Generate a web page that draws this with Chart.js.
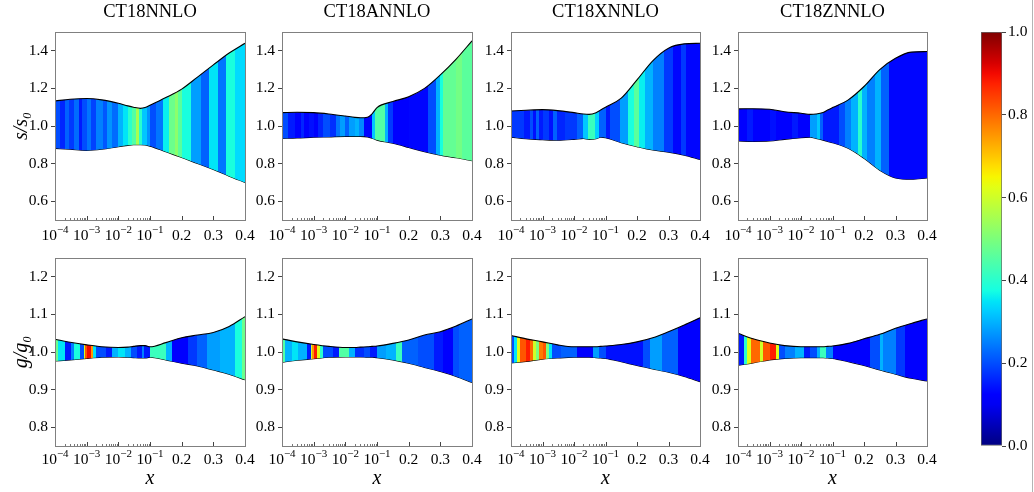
<!DOCTYPE html>
<html lang="en">
<head>
<meta charset="UTF-8">
<title>CT18 uncertainty bands</title>
<script src="https://cdn.jsdelivr.net/npm/chart.js"></script>
<style>
  body { margin: 0; background: #fff; }
  #wrap { position: relative; width: 1034px; height: 492px; overflow: hidden; }
  #wrap canvas { position: absolute; }
  #edge { position: absolute; left: 1032px; top: 0; width: 1px; height: 492px; background: #b4b4b4; }
</style>
</head>
<body>
<div id="wrap"><div id="edge"></div></div>
<script>
// ---- data ----
const setNames = ['CT18NNLO', 'CT18ANNLO', 'CT18XNNLO', 'CT18ZNNLO'];
const xNodes = [1e-4, 3e-4, 1e-3, 3e-3, 1e-2, 2e-2, 3e-2, 5e-2, 7e-2, 0.1, 0.15, 0.2, 0.25, 0.3, 0.35, 0.4];
const xTicks = [1e-4, 1e-3, 1e-2, 0.1, 0.2, 0.3, 0.4];
const xTickLabels = ['10^-4', '10^-3', '10^-2', '10^-1', '0.2', '0.3', '0.4'];
const sTicks = [0.6, 0.8, 1.0, 1.2, 1.4];
const gTicks = [0.8, 0.9, 1.0, 1.1, 1.2];
const cbarTicks = [0, 0.2, 0.4, 0.6, 0.8, 1.0];

// strange quark s/s0, upper and lower band edges
const sUpperNNLO = [1.133, 1.142, 1.146, 1.139, 1.121, 1.107, 1.100, 1.094, 1.098, 1.110, 1.151, 1.196, 1.260, 1.325, 1.388, 1.440];
const sLowerNNLO = [0.881, 0.876, 0.870, 0.876, 0.890, 0.897, 0.900, 0.900, 0.899, 0.893, 0.863, 0.833, 0.800, 0.769, 0.733, 0.700];
const sUpperA = [1.071, 1.073, 1.071, 1.064, 1.053, 1.046, 1.044, 1.047, 1.065, 1.098, 1.130, 1.156, 1.200, 1.272, 1.356, 1.453];
const sLowerA = [0.934, 0.936, 0.940, 0.942, 0.945, 0.945, 0.945, 0.942, 0.935, 0.925, 0.908, 0.886, 0.863, 0.845, 0.831, 0.815];
const sUpperX = [1.080, 1.084, 1.087, 1.082, 1.071, 1.064, 1.062, 1.071, 1.085, 1.100, 1.148, 1.245, 1.347, 1.414, 1.437, 1.440];
const sLowerX = [0.941, 0.932, 0.927, 0.924, 0.929, 0.934, 0.929, 0.932, 0.940, 0.938, 0.911, 0.890, 0.872, 0.861, 0.845, 0.822];
const sUpperZ = [1.091, 1.092, 1.089, 1.076, 1.068, 1.062, 1.064, 1.072, 1.085, 1.098, 1.139, 1.210, 1.300, 1.360, 1.393, 1.396];
const sLowerZ = [0.920, 0.918, 0.920, 0.929, 0.938, 0.940, 0.934, 0.925, 0.918, 0.911, 0.881, 0.828, 0.765, 0.724, 0.717, 0.724];

// gluon g/g0
const gUpperNNLO = [1.034, 1.026, 1.019, 1.014, 1.012, 1.013, 1.015, 1.017, 1.017, 1.014, 1.025, 1.038, 1.045, 1.052, 1.068, 1.094];
const gLowerNNLO = [0.976, 0.979, 0.983, 0.986, 0.987, 0.986, 0.985, 0.984, 0.984, 0.986, 0.979, 0.970, 0.963, 0.952, 0.941, 0.926];
const gUpperA = [1.035, 1.027, 1.020, 1.015, 1.012, 1.012, 1.013, 1.014, 1.015, 1.016, 1.023, 1.032, 1.045, 1.054, 1.069, 1.088];
const gLowerA = [0.973, 0.978, 0.982, 0.986, 0.987, 0.987, 0.987, 0.986, 0.986, 0.985, 0.979, 0.970, 0.959, 0.948, 0.935, 0.919];
const gUpperX = [1.044, 1.035, 1.027, 1.019, 1.014, 1.014, 1.014, 1.014, 1.015, 1.016, 1.020, 1.027, 1.038, 1.054, 1.072, 1.091];
const gLowerX = [0.971, 0.975, 0.981, 0.984, 0.986, 0.986, 0.986, 0.985, 0.984, 0.983, 0.974, 0.964, 0.955, 0.946, 0.935, 0.921];
const gUpperZ = [1.050, 1.035, 1.024, 1.017, 1.014, 1.014, 1.014, 1.014, 1.015, 1.016, 1.023, 1.035, 1.047, 1.063, 1.076, 1.088];
const gLowerZ = [0.965, 0.971, 0.979, 0.983, 0.985, 0.985, 0.985, 0.985, 0.984, 0.983, 0.974, 0.964, 0.952, 0.941, 0.930, 0.923];

// colour stripes: [x where the stripe starts, colour-scale value]
const sStripesNNLO = [[1e-4, .20], [1.4e-4, .16], [2e-4, .22], [2.8e-4, .18], [4e-4, .23], [5.6e-4, .15], [7e-4, .20],
  [1e-3, .24], [1.4e-3, .19], [2e-3, .25], [3.2e-3, .21], [4.5e-3, .27], [6.3e-3, .23], [1e-2, .30], [1.4e-2, .35],
  [2e-2, .40], [2.8e-2, .45], [3.5e-2, .55], [4.5e-2, .40], [5.6e-2, .32], [8e-2, .27], [0.10, .20], [0.12, .24],
  [0.14, .36], [0.16, .48], [0.18, .52], [0.19, .46], [0.20, .38], [0.23, .28], [0.26, .22], [0.285, .35],
  [0.315, .24], [0.34, .38], [0.37, .34]];
const sStripesA = [[1e-4, .20], [1.6e-4, .15], [2.5e-4, .12], [4e-4, .16], [5e-4, .12], [7e-4, .14], [1e-3, .12],
  [1.4e-3, .16], [2e-3, .20], [3.2e-3, .17], [5e-3, .24], [7e-3, .28], [1e-2, .22], [1.3e-2, .28], [2e-2, .30],
  [2.8e-2, .26], [4e-2, .13], [7e-2, .32], [8.5e-2, .45], [0.125, .30], [0.135, .18], [0.15, .12], [0.20, .13],
  [0.26, .20], [0.285, .30], [0.30, .38], [0.31, .47], [0.35, .49], [0.37, .46]];
const sStripesX = [[1e-4, .18], [2.5e-4, .15], [4e-4, .20], [5e-4, .14], [6.3e-4, .22], [7.5e-4, .15], [1e-3, .18],
  [1.6e-3, .14], [2.2e-3, .22], [2.8e-3, .16], [5e-3, .18], [1.26e-2, .22], [2e-2, .32], [2.8e-2, .42],
  [4.5e-2, .33], [6.3e-2, .22], [0.10, .15], [0.115, .20], [0.145, .28], [0.17, .38], [0.19, .46], [0.205, .36],
  [0.225, .30], [0.25, .25], [0.285, .18], [0.315, .13], [0.34, .18], [0.355, .13]];
const sStripesZ = [[1e-4, .12], [2e-4, .15], [3e-4, .12], [1e-3, .14], [1.6e-3, .12], [5e-3, .15], [8e-3, .12],
  [2e-2, .28], [3.2e-2, .32], [4e-2, .22], [5e-2, .15], [0.12, .20], [0.14, .25], [0.16, .30], [0.18, .40],
  [0.195, .30], [0.21, .25], [0.235, .30], [0.255, .22], [0.28, .13]];
const gStripesNNLO = [[1e-4, .48], [1.26e-4, .35], [2e-4, .15], [3.2e-4, .25], [4e-4, .38], [6.3e-4, .20],
  [8e-4, .60], [9e-4, .82], [1e-3, .90], [1.4e-3, .75], [1.6e-3, .35], [2e-3, .20], [4e-3, .15], [6.3e-3, .30],
  [1e-2, .35], [1.6e-2, .30], [2.5e-2, .20], [4e-2, .15], [5.5e-2, .25], [6.5e-2, .15], [0.10, .42], [0.15, .30],
  [0.17, .12], [0.22, .18], [0.25, .22], [0.28, .28], [0.32, .30], [0.37, .38], [0.39, .48]];
const gStripesA = [[1e-4, .45], [1.26e-4, .30], [2e-4, .35], [3.2e-4, .30], [6.3e-4, .15], [8e-4, .60], [9e-4, .75],
  [1e-3, .88], [1.26e-3, .62], [1.6e-3, .40], [2e-3, .20], [4e-3, .15], [6.3e-3, .45], [1.26e-2, .30], [2e-2, .17],
  [4e-2, .20], [6e-2, .15], [0.10, .28], [0.13, .30], [0.16, .42], [0.18, .22], [0.23, .20], [0.28, .15],
  [0.31, .12], [0.34, .20], [0.36, .22]];
const gStripesX = [[1e-4, .20], [1.26e-4, .35], [1.58e-4, .62], [2e-4, .82], [3e-4, .88], [4e-4, .80], [5e-4, .60],
  [6.3e-4, .50], [8e-4, .78], [1e-3, .82], [1.26e-3, .50], [1.6e-3, .35], [2e-3, .20], [4e-3, .22], [1.26e-2, .12],
  [4e-2, .28], [6.3e-2, .20], [0.10, .14], [0.22, .20], [0.24, .28], [0.28, .22], [0.33, .12]];
const gStripesZ = [[1e-4, .15], [1.58e-4, .40], [2e-4, .62], [2.5e-4, .80], [5e-4, .60], [6.3e-4, .82], [1e-3, .88],
  [1.6e-3, .62], [2e-3, .20], [3.2e-3, .25], [6.3e-3, .30], [1.26e-2, .15], [2e-2, .20], [3.2e-2, .30], [4e-2, .42],
  [6.3e-2, .25], [0.10, .12], [0.22, .20], [0.25, .30], [0.26, .25], [0.30, .18], [0.33, .12]];

// ---- helpers ----
const FONT = "'Liberation Serif', 'DejaVu Serif', serif";

// x axis: log up to 0.1, linear above, every labelled tick equally spaced
function toU(x) { return x <= 0.1 ? Math.log10(x) + 4 : 3 + (x - 0.1) / 0.1; }
function fromU(u) { return u <= 3 ? Math.pow(10, u - 4) : 0.1 + (u - 3) * 0.1; }

class LogLinScale extends Chart.LinearScale {
  getPixelForValue(v) { return this.getPixelForDecimal(toU(v) / 6); }
  getValueForPixel(p) { return fromU(this.getDecimalForPixel(p) * 6); }
}
LogLinScale.id = 'loglin';
LogLinScale.defaults = Chart.LinearScale.defaults;
Chart.register(LogLinScale);

// matplotlib "jet"
const JR = [[0, 0], [0.35, 0], [0.66, 1], [0.89, 1], [1, 0.5]];
const JG = [[0, 0], [0.125, 0], [0.375, 1], [0.64, 1], [0.91, 0], [1, 0]];
const JB = [[0, 0.5], [0.11, 1], [0.34, 1], [0.65, 0], [1, 0]];
function seg(pts, v) {
  for (let i = 1; i < pts.length; i++) {
    if (v <= pts[i][0]) {
      const [x0, y0] = pts[i - 1], [x1, y1] = pts[i];
      return y0 + (y1 - y0) * (v - x0) / (x1 - x0);
    }
  }
  return pts[pts.length - 1][1];
}
function jet(v) {
  return 'rgb(' + Math.round(255 * seg(JR, v)) + ',' + Math.round(255 * seg(JG, v)) + ',' + Math.round(255 * seg(JB, v)) + ')';
}

function stripeFill(c, stripes) {
  const chart = c.chart, area = chart.chartArea, sx = chart.scales.x;
  if (!area || !sx) return 'rgba(0,0,0,0)';
  const w = area.right - area.left;
  const g = chart.ctx.createLinearGradient(area.left, 0, area.right, 0);
  const pos = v => Math.min(1, Math.max(0, (sx.getPixelForValue(v) - area.left) / w));
  for (let i = 0; i < stripes.length; i++) {
    const end = i + 1 < stripes.length ? stripes[i + 1][0] : 0.4;
    const col = jet(stripes[i][1]);
    g.addColorStop(pos(stripes[i][0]), col);
    g.addColorStop(pos(end), col);
  }
  return g;
}

// panel frame and inward x ticks with 10^n labels
const framePlugin = {
  id: 'frame',
  afterDraw(chart, args, opts) {
    const { ctx, chartArea: a } = chart;
    const sx = chart.scales.x;
    ctx.save();
    ctx.strokeStyle = '#444';
    ctx.lineWidth = 1;
    ctx.beginPath();
    xTicks.forEach(v => {
      const px = Math.round(sx.getPixelForValue(v)) + 0.5;
      ctx.moveTo(px, a.bottom); ctx.lineTo(px, a.bottom - 4);
    });
    ctx.stroke();
    ctx.strokeStyle = '#777';
    ctx.beginPath();
    [-4, -3, -2].forEach(k => {
      for (let m = 2; m <= 9; m++) {
        const px = Math.round(sx.getPixelForValue(m * Math.pow(10, k))) + 0.5;
        ctx.moveTo(px, a.bottom); ctx.lineTo(px, a.bottom - 2);
      }
    });
    ctx.stroke();
    ctx.strokeStyle = '#808080';
    ctx.strokeRect(Math.round(a.left) + 0.5, Math.round(a.top) + 0.5, Math.round(a.right - a.left), Math.round(a.bottom - a.top));

    ctx.fillStyle = '#000';
    ctx.textBaseline = 'alphabetic';
    ctx.textAlign = 'left';
    const base = a.bottom + opts.labelOffset;
    xTicks.forEach((v, i) => {
      const px = sx.getPixelForValue(v);
      const parts = xTickLabels[i].split('^');
      ctx.font = '15.5px ' + FONT;
      const w0 = ctx.measureText(parts[0]).width;
      let w1 = 0, exp = '';
      if (parts.length > 1) {
        exp = parts[1].replace('-', '\u2212');
        ctx.font = '11px ' + FONT;
        w1 = ctx.measureText(exp).width;
      }
      const start = px - (w0 + w1) / 2;
      ctx.font = '15.5px ' + FONT;
      ctx.fillText(parts[0], start, base);
      if (exp) {
        ctx.font = '11px ' + FONT;
        ctx.fillText(exp, start + w0, base - 7);
      }
    });
    ctx.restore();
  }
};

const wrap = document.getElementById('wrap');
function makeCanvas(left, top, w, h) {
  const c = document.createElement('canvas');
  c.width = w; c.height = h;
  c.style.left = left + 'px'; c.style.top = top + 'px';
  c.style.width = w + 'px'; c.style.height = h + 'px';
  wrap.appendChild(c);
  return c;
}

const plotLefts = [55, 282, 511, 738];
const plotWidths = [190, 190, 189, 189];
const rows = [
  { top: 0, height: 250, padTop: 0, xHeight: 30, labelOffset: 20, min: 0.5, max: 1.5, ticks: sTicks, ylabel: 's/s\u2080',
    upper: [sUpperNNLO, sUpperA, sUpperX, sUpperZ], lower: [sLowerNNLO, sLowerA, sLowerX, sLowerZ],
    stripes: [sStripesNNLO, sStripesA, sStripesX, sStripesZ] },
  { top: 240, height: 252, padTop: 18, xHeight: 46, labelOffset: 18, min: 0.75, max: 1.25, ticks: gTicks, ylabel: 'g/g\u2080',
    upper: [gUpperNNLO, gUpperA, gUpperX, gUpperZ], lower: [gLowerNNLO, gLowerA, gLowerX, gLowerZ],
    stripes: [gStripesNNLO, gStripesA, gStripesX, gStripesZ] }
];

rows.forEach((row, r) => {
  for (let col = 0; col < 4; col++) {
    const cv = makeCanvas(plotLefts[col] - 55, row.top, 55 + plotWidths[col] + 15, row.height);
    const stripes = row.stripes[col];
    new Chart(cv, {
      type: 'line',
      data: {
        datasets: [
          { data: xNodes.map((x, i) => ({ x: x, y: row.upper[col][i] })), fill: '+1',
            backgroundColor: c => stripeFill(c, stripes) },
          { data: xNodes.map((x, i) => ({ x: x, y: row.lower[col][i] })), fill: false }
        ]
      },
      options: {
        responsive: false, animation: false, devicePixelRatio: 1, events: [],
        layout: { padding: { top: row.padTop, right: 15, left: 0, bottom: 0 } },
        elements: {
          line: { borderColor: '#000', borderWidth: 1.1, cubicInterpolationMode: 'monotone' },
          point: { radius: 0 }
        },
        plugins: {
          legend: { display: false }, tooltip: { enabled: false },
          title: { display: r === 0, text: setNames[col], fullSize: false, color: '#000',
            font: { family: FONT, size: 18.5, weight: 'normal', lineHeight: 1.2 }, padding: { top: 1.5, bottom: 8.3 } },
          frame: { labelOffset: row.labelOffset }
        },
        scales: {
          x: {
            type: 'loglin', min: 1e-4, max: 0.4,
            afterBuildTicks: s => { s.ticks = xTicks.map(v => ({ value: v })); },
            afterFit: s => { s.height = row.xHeight; },
            ticks: { display: false }, grid: { display: false }, border: { display: false },
            title: { display: r === 1, text: 'x', color: '#000',
              font: { family: FONT, size: 20, style: 'italic', lineHeight: 1.2 }, padding: { top: 0, bottom: 1 } }
          },
          y: {
            min: row.min, max: row.max,
            afterBuildTicks: s => { s.ticks = row.ticks.map(v => ({ value: v })); },
            afterFit: s => { s.width = 55; },
            ticks: { color: '#000', padding: 3, font: { family: FONT, size: 15.5 }, callback: v => v.toFixed(1) },
            grid: { drawOnChartArea: false, tickLength: 4, color: '#444' },
            border: { display: false },
            title: { display: col === 0, text: row.ylabel, color: '#000',
              font: { family: FONT, size: 20, style: 'italic', lineHeight: 1.2 }, padding: { top: 10, bottom: 0 } }
          }
        }
      },
      plugins: [framePlugin]
    });
  }
});

// colour bar
const cbCanvas = makeCanvas(975, 0, 59, 492);
new Chart(cbCanvas, {
  type: 'bar',
  data: {
    labels: [''],
    datasets: [{
      data: [[0, 1]],
      backgroundColor: c => {
        const a = c.chart.chartArea;
        if (!a) return 'rgba(0,0,0,0)';
        const g = c.chart.ctx.createLinearGradient(0, a.bottom, 0, a.top);
        for (let i = 0; i <= 40; i++) g.addColorStop(i / 40, jet(i / 40));
        return g;
      },
      borderColor: '#666', borderWidth: 1, borderSkipped: false,
      barPercentage: 1, categoryPercentage: 1
    }]
  },
  options: {
    responsive: false, animation: false, devicePixelRatio: 1, events: [],
    layout: { padding: { left: 6, top: 32, bottom: 46, right: 0 } },
    plugins: { legend: { display: false }, tooltip: { enabled: false } },
    scales: {
      x: { display: false },
      y: {
        position: 'right', min: 0, max: 1,
        afterBuildTicks: s => { s.ticks = cbarTicks.map(v => ({ value: v })); },
        afterFit: s => { s.width = 32; },
        ticks: { color: '#000', padding: 2, font: { family: FONT, size: 15.5 }, callback: v => v.toFixed(1) },
        grid: { drawOnChartArea: false, tickLength: 4, color: '#444' },
        border: { display: false }
      }
    }
  }
});
</script>
</body>
</html>
